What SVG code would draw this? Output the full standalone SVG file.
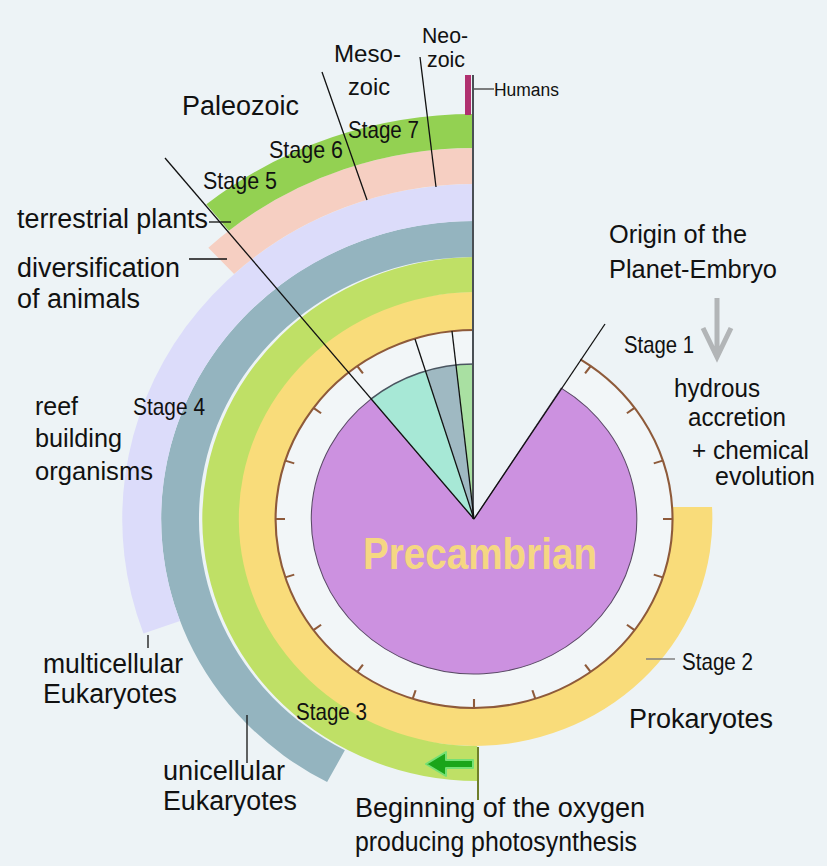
<svg xmlns="http://www.w3.org/2000/svg" width="827" height="866" viewBox="0 0 827 866">
<style>
text{font-family:"Liberation Sans",Arial,sans-serif;fill:#111;}
.lbl{font-size:27px;}
.rl{font-size:25px;}
.stg{font-size:24px;}
.ln{stroke:#111;stroke-width:1.3;fill:none;}
.tick{stroke:#8e5a3a;stroke-width:2;}
</style>
<rect x="0" y="0" width="827" height="866" fill="#edf3f6"/>
<g id="rings" transform="translate(474,519) scale(1.05,1)">
  <path id="inner-white" d="M0 0 L101.3 -159.6 A189 189 0 1 1 0 -189 Z" fill="#f2f6f8"/>
  <path id="stage2-yellow" d="M188.6 -12 L226.7 -12 A227 227 0 1 1 0 -227 L0 -189 A189 189 0 1 0 188.6 -12 Z" fill="#f9dc7a"/>
  <path id="stage3-green" d="M3 226.98 L3 261.98 A262 262 0 0 1 0 -262 L0 -227 A227 227 0 0 0 3 226.98 Z" fill="#bfe066"/>
  <path id="stage4-grey" d="M-123 231.3 L-139.9 263.1 A298 298 0 0 1 0 -298 L0 -262 A262 262 0 0 0 -123 231.3 Z" fill="#94b4bf"/>
  <path id="multicell-lavender" d="M-280 101.9 L-314.8 114.6 A335 335 0 0 1 0 -335 L0 -298 A298 298 0 0 0 -280 101.9 Z" fill="#dcdcfa"/>
  <path id="mesozoic-pink" d="M-228.5 -245 L-253 -271.3 A371 371 0 0 1 0 -371 L0 -335 A335 335 0 0 0 -228.5 -245 Z" fill="#f6cfc2"/>
  <path id="paleozoic-green" d="M-233.5 -288.3 L-254.9 -314.7 A405 405 0 0 1 0 -405 L0 -371 A371 371 0 0 0 -233.5 -288.3 Z" fill="#93d152"/>
  <path id="precambrian" d="M0 0 L83.05 -130.9 A155 155 0 1 1 -97.96 -120.1 Z" fill="#cc91e0" stroke="#5a4a66" stroke-width="1"/>
  <path id="wedge-cyan" d="M0 0 L-97.96 -120.1 A155 155 0 0 1 -46.1 -148 Z" fill="#a7e8d6"/>
  <path id="wedge-grey" d="M0 0 L-46.1 -148 A155 155 0 0 1 -17.28 -154 Z" fill="#9fb9c2"/>
  <path id="wedge-green" d="M0 0 L-17.28 -154 A155 155 0 0 1 0 -155 Z" fill="#a9e0a2"/>
  <path d="M-97.96 -120.1 A155 155 0 0 1 0 -155" fill="none" stroke="#4a5560" stroke-width="1.6"/>
  <path id="time-arc" d="M101.3 -159.6 A189 189 0 1 1 0 -189" fill="none" stroke="#8e5a3a" stroke-width="2"/>
  <g id="ticks">
    <line class="tick" x1="0" y1="-189" x2="0" y2="-180" transform="rotate(36)"/>
    <line class="tick" x1="0" y1="-189" x2="0" y2="-180" transform="rotate(54)"/>
    <line class="tick" x1="0" y1="-189" x2="0" y2="-180" transform="rotate(72)"/>
    <line class="tick" x1="0" y1="-189" x2="0" y2="-180" transform="rotate(90)"/>
    <line class="tick" x1="0" y1="-189" x2="0" y2="-180" transform="rotate(108)"/>
    <line class="tick" x1="0" y1="-189" x2="0" y2="-180" transform="rotate(126)"/>
    <line class="tick" x1="0" y1="-189" x2="0" y2="-180" transform="rotate(144)"/>
    <line class="tick" x1="0" y1="-189" x2="0" y2="-180" transform="rotate(162)"/>
    <line class="tick" x1="0" y1="-189" x2="0" y2="-180" transform="rotate(180)"/>
    <line class="tick" x1="0" y1="-189" x2="0" y2="-180" transform="rotate(198)"/>
    <line class="tick" x1="0" y1="-189" x2="0" y2="-180" transform="rotate(216)"/>
    <line class="tick" x1="0" y1="-189" x2="0" y2="-180" transform="rotate(234)"/>
    <line class="tick" x1="0" y1="-189" x2="0" y2="-180" transform="rotate(252)"/>
    <line class="tick" x1="0" y1="-189" x2="0" y2="-180" transform="rotate(270)"/>
    <line class="tick" x1="0" y1="-189" x2="0" y2="-180" transform="rotate(288)"/>
    <line class="tick" x1="0" y1="-189" x2="0" y2="-180" transform="rotate(306)"/>
    <line class="tick" x1="0" y1="-189" x2="0" y2="-180" transform="rotate(324)"/>
  </g>
</g>
<g id="humans">
  <rect x="465" y="75" width="6" height="40" fill="#b0306f"/>
</g>
<g id="connectors">
  <line x1="473" y1="75" x2="473" y2="519" stroke="#4a4f55" stroke-width="2"/>
  <line class="ln" x1="165" y1="158" x2="474" y2="519"/>
  <line class="ln" x1="474" y1="519" x2="605" y2="324"/>
  <line class="ln" x1="474" y1="519" x2="415" y2="339"/>
  <line class="ln" x1="474" y1="519" x2="452" y2="331"/>
  <line class="ln" x1="322" y1="72" x2="367" y2="200" stroke-width="1"/>
  <line class="ln" x1="420" y1="57" x2="436" y2="187" stroke-width="1"/>
  <line x1="474" y1="89" x2="494" y2="89" stroke="#555" stroke-width="1.5"/>
  <line class="ln" x1="209" y1="222" x2="231" y2="222"/>
  <line class="ln" x1="189" y1="259" x2="227" y2="259"/>
  <line class="ln" x1="148" y1="635" x2="148" y2="648"/>
  <line class="ln" x1="247" y1="715" x2="247" y2="763"/>
  <line x1="646" y1="659" x2="675" y2="659" stroke="#808080" stroke-width="1.5"/>
  <line x1="478" y1="747" x2="478" y2="800" stroke="#6f7f2a" stroke-width="2"/>
  <path d="M717 298 L717 356 M703 328 L717 357 L731 328" fill="none" stroke="#b2b5b7" stroke-width="5"/>
  <path d="M426 764 L446 752 L446 760 L473 760 L473 768 L446 768 L446 776 Z" fill="#1aa51a" stroke="#74e074" stroke-width="2" stroke-linejoin="round"/>
</g>
<g id="labels">
  <text class="lbl" x="182" y="115" textLength="117" lengthAdjust="spacingAndGlyphs">Paleozoic</text>
  <text x="334" y="62" font-size="24" textLength="67" lengthAdjust="spacingAndGlyphs">Meso-</text>
  <text x="348" y="95" font-size="24" textLength="42" lengthAdjust="spacingAndGlyphs">zoic</text>
  <text x="422" y="43" font-size="22" textLength="46" lengthAdjust="spacingAndGlyphs">Neo-</text>
  <text x="427" y="67" font-size="22" textLength="38" lengthAdjust="spacingAndGlyphs">zoic</text>
  <text x="494" y="96" font-size="18" textLength="65" lengthAdjust="spacingAndGlyphs">Humans</text>
  <text class="stg" x="348" y="138" textLength="71" lengthAdjust="spacingAndGlyphs">Stage 7</text>
  <text class="stg" x="269" y="158" textLength="74" lengthAdjust="spacingAndGlyphs">Stage 6</text>
  <text class="stg" x="203" y="189" textLength="74" lengthAdjust="spacingAndGlyphs">Stage 5</text>
  <text class="lbl" x="17" y="228" textLength="191" lengthAdjust="spacingAndGlyphs">terrestrial plants</text>
  <text class="lbl" x="17" y="277" textLength="163" lengthAdjust="spacingAndGlyphs">diversification</text>
  <text class="lbl" x="17" y="308" textLength="123" lengthAdjust="spacingAndGlyphs">of animals</text>
  <text x="35" y="415" font-size="26" textLength="43" lengthAdjust="spacingAndGlyphs">reef</text>
  <text x="35" y="447" font-size="26" textLength="87" lengthAdjust="spacingAndGlyphs">building</text>
  <text x="35" y="480" font-size="26" textLength="118" lengthAdjust="spacingAndGlyphs">organisms</text>
  <text class="stg" x="133" y="415" textLength="72" lengthAdjust="spacingAndGlyphs">Stage 4</text>
  <text class="lbl" x="43" y="673" textLength="140" lengthAdjust="spacingAndGlyphs">multicellular</text>
  <text class="lbl" x="43" y="703" textLength="134" lengthAdjust="spacingAndGlyphs">Eukaryotes</text>
  <text class="lbl" x="163" y="780" textLength="122" lengthAdjust="spacingAndGlyphs">unicellular</text>
  <text class="lbl" x="163" y="810" textLength="134" lengthAdjust="spacingAndGlyphs">Eukaryotes</text>
  <text class="stg" x="296" y="720" textLength="71" lengthAdjust="spacingAndGlyphs">Stage 3</text>
  <text class="lbl" x="355" y="817" textLength="290" lengthAdjust="spacingAndGlyphs">Beginning of the oxygen</text>
  <text class="lbl" x="355" y="851" textLength="282" lengthAdjust="spacingAndGlyphs">producing photosynthesis</text>
  <text class="lbl" x="629" y="728" textLength="144" lengthAdjust="spacingAndGlyphs">Prokaryotes</text>
  <text class="stg" x="682" y="670" textLength="71" lengthAdjust="spacingAndGlyphs">Stage 2</text>
  <text class="rl" x="609" y="243" textLength="138" lengthAdjust="spacingAndGlyphs">Origin of the</text>
  <text class="rl" x="609" y="278" textLength="168" lengthAdjust="spacingAndGlyphs">Planet-Embryo</text>
  <text class="stg" x="624" y="353" textLength="70" lengthAdjust="spacingAndGlyphs">Stage 1</text>
  <text class="rl" x="674" y="397" textLength="86" lengthAdjust="spacingAndGlyphs">hydrous</text>
  <text class="rl" x="688" y="426" textLength="98" lengthAdjust="spacingAndGlyphs">accretion</text>
  <text class="rl" x="692" y="459" textLength="117" lengthAdjust="spacingAndGlyphs">+ chemical</text>
  <text class="rl" x="715" y="485" textLength="100" lengthAdjust="spacingAndGlyphs">evolution</text>
  <text x="363" y="569" font-size="44" font-weight="bold" textLength="234" lengthAdjust="spacingAndGlyphs" style="fill:#f5d783">Precambrian</text>
</g>
</svg>
